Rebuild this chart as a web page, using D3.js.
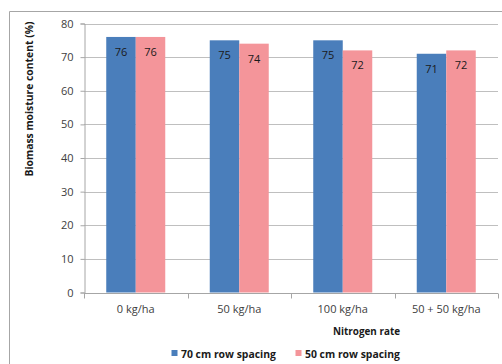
<!DOCTYPE html>
<html>
<head>
<meta charset="utf-8">
<script src="https://cdn.jsdelivr.net/npm/d3@7"></script>
<style>
  html, body { margin: 0; padding: 0; background: #fff; }
  svg { display: block; font-family: "Open Sans", "DejaVu Sans", sans-serif; }
</style>
</head>
<body>
<svg id="chart" width="502" height="364"></svg>
<script>
// Nitrogen rate treatments and biomass moisture content (%) by row spacing
const categories = ["0 kg/ha", "50 kg/ha", "100 kg/ha", "50 + 50 kg/ha"];
const seriesNames = ["70 cm row spacing", "50 cm row spacing"];
const row70 = [76, 75, 75, 71];
const row50 = [76, 74, 72, 72];
const yTicks = [0, 10, 20, 30, 40, 50, 60, 70, 80];
const colors = ["#4A7EBB", "#F4959A"];

const svg = d3.select("#chart");
const W = 502, H = 364;
const plot = { left: 84, right: 498, top: 23.5, bottom: 292.5 };

// scale a bold label's font size so it spans the given width
function fitWidth(sel, width) {
  const node = sel.node();
  const fs = parseFloat(sel.attr("font-size"));
  const len = node.getComputedTextLength();
  if (len > 0) sel.attr("font-size", (fs * width / len).toFixed(2));
  return sel;
}

// outer chart frame
svg.append("path")
  .attr("d", `M9.5,${H} V11.5 H${W + 2}`)
  .attr("fill", "none")
  .attr("stroke", "#a6a6a6")
  .attr("stroke-width", 1);

const x = d3.scaleBand().domain(categories).range([plot.left, plot.right])
  .paddingInner(0).paddingOuter(0);
const y = d3.scaleLinear().domain([0, 80]).range([plot.bottom, plot.top]);

const groupFrac = 59 / 103.5;
const xs = d3.scaleBand().domain([0, 1])
  .range([x.bandwidth() * (1 - groupFrac) / 2, x.bandwidth() * (1 + groupFrac) / 2]);

// horizontal gridlines
svg.append("g").selectAll("line").data(yTicks.filter(d => d > 0)).join("line")
  .attr("x1", plot.left).attr("x2", plot.right)
  .attr("y1", d => Math.round(y(d)) + 0.5).attr("y2", d => Math.round(y(d)) + 0.5)
  .attr("stroke", "#bfbfbf").attr("stroke-width", 1);

// y axis
const yAxis = svg.append("g")
  .attr("transform", `translate(${plot.left + 0.5},0)`)
  .call(d3.axisLeft(y).tickValues(yTicks).tickSize(4).tickPadding(7));
yAxis.select(".domain").attr("stroke", "#a6a6a6");
yAxis.selectAll(".tick line").attr("stroke", "#a6a6a6");
yAxis.selectAll(".tick text").attr("font-size", 11).attr("fill", "#404040")
  .attr("font-family", "'Open Sans', sans-serif");

// x axis with ticks at category boundaries
const xAxisG = svg.append("g").attr("transform", `translate(0,${Math.round(plot.bottom) + 0.5})`);
xAxisG.append("line").attr("x1", plot.left).attr("x2", plot.right)
  .attr("stroke", "#a6a6a6");
const bounds = categories.map(c => x(c)).concat([plot.right]);
xAxisG.selectAll("line.tk").data(bounds).join("line").attr("class", "tk")
  .attr("x1", d => Math.round(d) + 0.5).attr("x2", d => Math.round(d) + 0.5)
  .attr("y1", 0).attr("y2", 5).attr("stroke", "#a6a6a6");
xAxisG.selectAll("text").data(categories).join("text")
  .attr("x", d => x(d) + x.bandwidth() / 2)
  .attr("y", 19.5)
  .attr("text-anchor", "middle")
  .attr("font-size", 11)
  .attr("fill", "#404040")
  .text(d => d);

// bars
const series = [row70, row50];
const gBars = svg.append("g");
series.forEach((vals, si) => {
  gBars.selectAll(null).data(vals).join("rect")
    .attr("x", (d, i) => x(categories[i]) + xs(si))
    .attr("y", d => y(d))
    .attr("width", xs.bandwidth())
    .attr("height", d => y(0) - y(d))
    .attr("fill", colors[si]);
  gBars.selectAll(null).data(vals).join("text")
    .attr("x", (d, i) => x(categories[i]) + xs(si) + xs.bandwidth() / 2)
    .attr("y", d => y(d) + 19)
    .attr("text-anchor", "middle")
    .attr("font-size", 11)
    .attr("fill", "#1a1a1a")
    .text(d => d);
});

// axis titles
const yTitle = svg.append("text")
  .attr("transform", "translate(33,99) rotate(-90)")
  .attr("text-anchor", "middle")
  .attr("font-size", 10)
  .attr("font-weight", "bold")
  .attr("fill", "#1a1a1a")
  .text("Biomass moisture content (%)");
fitWidth(yTitle, 155);

const xTitle = svg.append("text")
  .attr("x", 400).attr("y", 334.5)
  .attr("text-anchor", "end")
  .attr("font-size", 10)
  .attr("font-weight", "bold")
  .attr("fill", "#1a1a1a")
  .text("Nitrogen rate");
fitWidth(xTitle, 67);

// legend
const legendX = [171.5, 295.5];
const lg = svg.append("g");
seriesNames.forEach((name, i) => {
  lg.append("rect").attr("x", legendX[i]).attr("y", 350)
    .attr("width", 6).attr("height", 6).attr("fill", colors[i]);
  const t = lg.append("text").attr("x", legendX[i] + 9.5).attr("y", 357.5)
    .attr("font-size", 10).attr("font-weight", "bold").attr("fill", "#1a1a1a")
    .text(name);
  fitWidth(t, 95);
});
</script>
</body>
</html>
